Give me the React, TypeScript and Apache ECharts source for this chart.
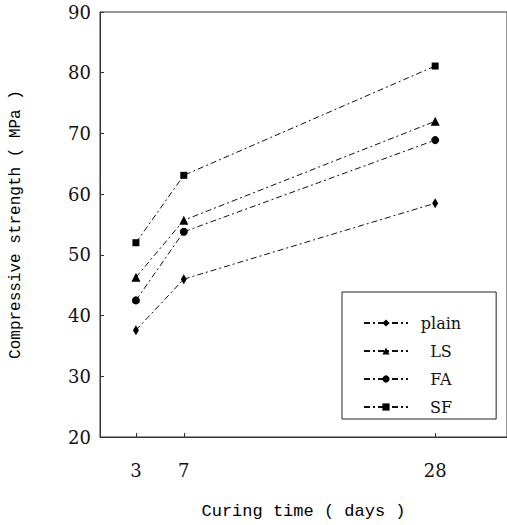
import React, { useEffect, useRef } from "react";
import * as echarts from "echarts";

const days = [3, 7, 28];
const xTicks = [3, 7, 28];
const plain = [37.6, 46.0, 58.5];
const ls = [46.3, 55.7, 72.0];
const fa = [42.5, 53.8, 68.9];
const sf = [52.0, 63.1, 81.1];
const seriesNames = ["plain", "LS", "FA", "SF"];

const pair = (vals: number[]) => days.map((d, i) => [d, vals[i]]);

export default function App() {
  const ref = useRef<HTMLDivElement>(null);
  useEffect(() => {
    document.body.style.margin = "0";
    const chart = echarts.init(ref.current!, null, { renderer: "svg" });
    const lineStyle = { color: "#111", width: 1, type: [6, 3, 2, 3] as any };
    const mk = (name: string, vals: number[], symbol: string, size: any) => ({
      name,
      type: "line",
      data: pair(vals),
      symbol,
      symbolSize: size,
      showSymbol: true,
      lineStyle,
      itemStyle: { color: "#000" },
    });
    chart.setOption({
      animation: false,
      backgroundColor: "#fff",
      grid: {
        left: 98,
        top: 12,
        right: -4,
        bottom: 82,
        show: true,
        borderColor: "#333",
        borderWidth: 1,
      },
      xAxis: {
        type: "value",
        min: 0,
        max: 34,
        name: "Curing time ( days )",
        nameLocation: "middle",
        nameGap: 66,
        nameTextStyle: { fontFamily: "Liberation Mono", fontSize: 17, color: "#000" },
        axisLine: { show: true, lineStyle: { color: "#333" } },
        axisTick: { show: true, inside: true, length: 4, customValues: xTicks, lineStyle: { color: "#333" } },
        axisLabel: {
          customValues: xTicks,
          margin: 24,
          fontFamily: "DejaVu Serif",
          fontSize: 18,
          color: "#111",
        },
        splitLine: { show: false },
      },
      yAxis: {
        type: "value",
        min: 20,
        max: 90,
        interval: 10,
        name: "Compressive strength ( MPa )",
        nameLocation: "middle",
        nameGap: 76,
        nameTextStyle: { fontFamily: "Liberation Mono", fontSize: 16, color: "#000" },
        axisLine: { show: true, lineStyle: { color: "#333" } },
        axisTick: { show: true, inside: true, length: 4, lineStyle: { color: "#333" } },
        axisLabel: { margin: 9, fontFamily: "DejaVu Serif", fontSize: 18, color: "#111" },
        splitLine: { show: false },
      },
      legend: {
        data: seriesNames,
        orient: "vertical",
        left: 342,
        top: 292,
        padding: [23, 35, 4, 21],
        itemWidth: 44,
        itemHeight: 9,
        itemGap: 12,
        borderColor: "#222",
        borderWidth: 1,
        formatter: "{t|{name}}",
        textStyle: {
          fontFamily: "DejaVu Serif",
          fontSize: 16,
          color: "#111",
          rich: {
            t: {
              width: 56,
              align: "center",
              fontFamily: "DejaVu Serif",
              fontSize: 16,
              color: "#111",
            },
          },
        },
      },
      series: [
        mk("plain", plain, "diamond", [6, 10]),
        mk("LS", ls, "triangle", 9),
        mk("FA", fa, "circle", 8),
        mk("SF", sf, "rect", 7),
      ],
    });
    return () => chart.dispose();
  }, []);
  return <div ref={ref} style={{ width: 507, height: 525 }} />;
}
